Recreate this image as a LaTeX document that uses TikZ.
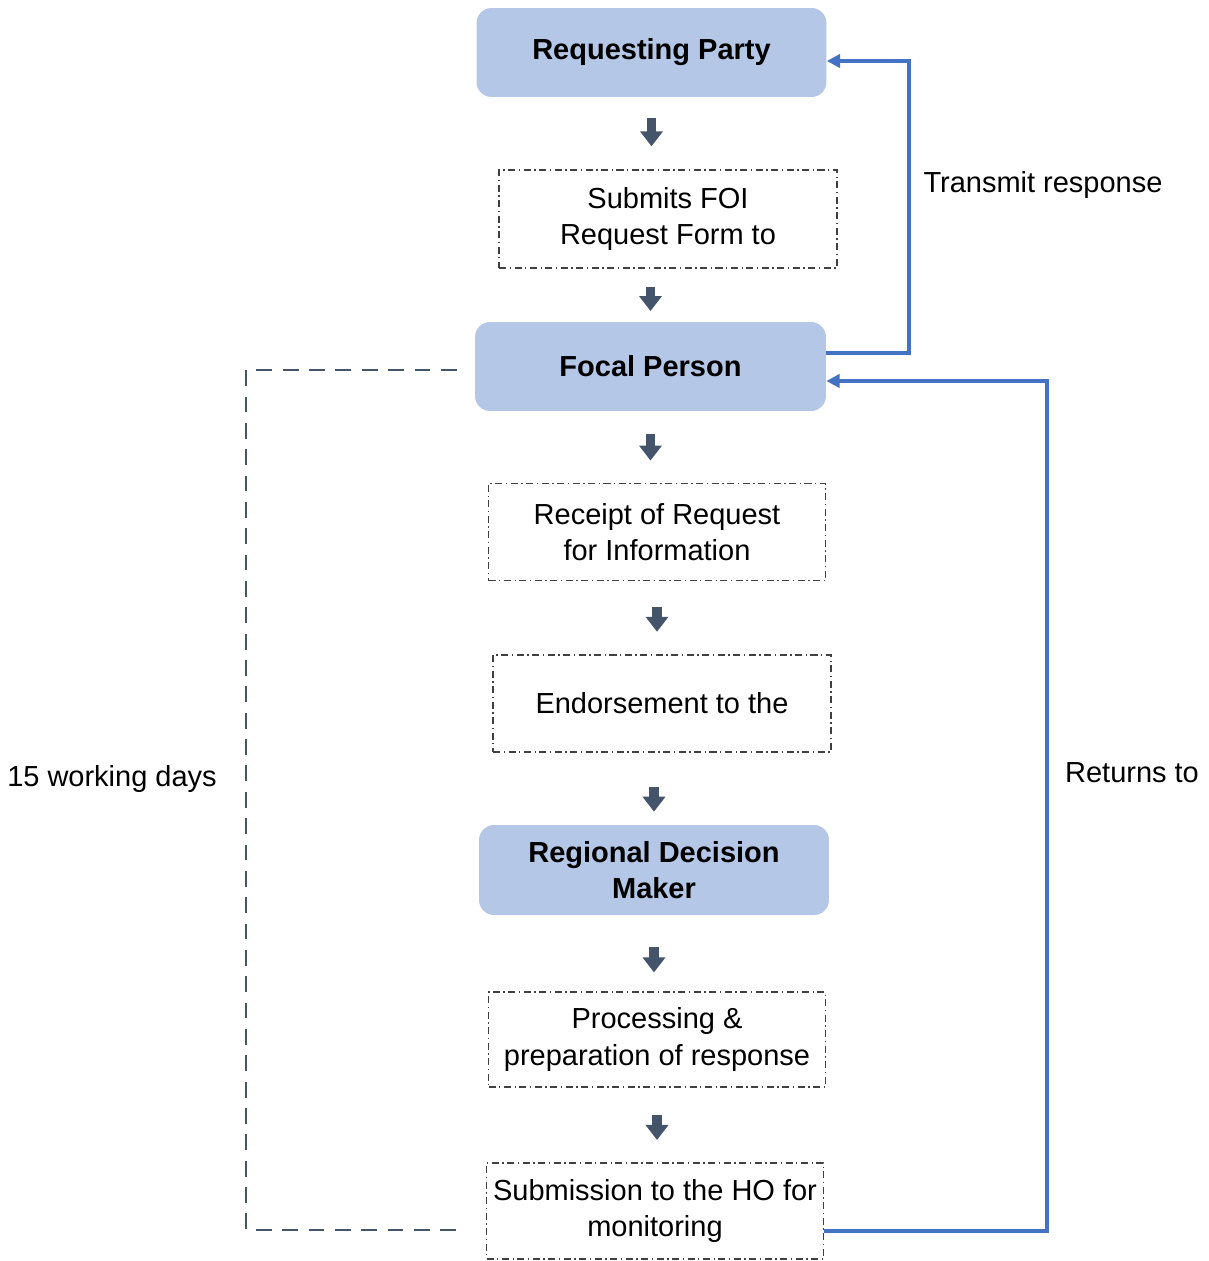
\documentclass[tikz,border=0pt]{standalone}
\usepackage{fontspec}
\setmainfont{Liberation Sans}
\usetikzlibrary{arrows.meta,calc}
\definecolor{boxblue}{HTML}{B4C7E7}
\definecolor{slate}{HTML}{44546A}
\definecolor{linkblue}{HTML}{4472C4}
\newcommand{\flowarrow}[4]{\draw[blockarr] ($(#1)!#3!(#2)$) -- ($(#1)!#4!(#2)$);}

\begin{document}
\begin{tikzpicture}[x=0.02cm, y=-0.02cm,
  every node/.style={font=\fontsize{16.5}{20.5}\selectfont, align=center},
  party/.style={fill=boxblue, rounded corners=0.3cm, inner sep=0,
    font=\fontsize{16.5}{20.5}\selectfont\bfseries,
    minimum width=7cm, minimum height=1.78cm},
  stepbox/.style={draw=black!75, line width=0.7pt, inner sep=0,
    dash pattern=on 4pt off 2pt on 0.8pt off 2pt,
    minimum width=6.74cm, minimum height=1.95cm},
  blockarr/.style={slate, line width=0.19cm, -{Triangle[width=0.44cm,length=0.3cm]}},
  link/.style={linkblue, line width=2pt, -{Triangle[width=7.5pt,length=7.5pt]}},
  timeline/.style={slate, line width=1.5pt, dash pattern=on 9pt off 6pt}]
  \useasboundingbox (0,0) rectangle (1208,1261);

  % main column
  \node[party] (rp) at (651.5,52.5) {Requesting Party};
  \node[stepbox, minimum width=6.76cm, minimum height=1.96cm] (sub) at (668,219) {Submits FOI\\Request Form to};
  \node[party, minimum width=7.02cm] (fp) at (650.5,366.5) {Focal Person};
  \node[stepbox] (rec) at (657,532) {Receipt of Request\\for Information};
  \node[stepbox, minimum width=6.76cm, minimum height=1.94cm] (endo) at (662,703.5) {Endorsement to the};
  \node[party, minimum height=1.8cm] (rdm) at (654,870) {Regional Decision\\Maker};
  \node[stepbox, minimum height=1.9cm] (proc) at (657,1039.5) {Processing \&\\preparation of response};
  \node[stepbox, minimum height=1.92cm] (subm) at (655,1211) {Submission to the HO for\\monitoring};

  % block arrows between the steps
  \flowarrow{rp.south}{rp.south|-sub.north}{.29}{.68}
  \flowarrow{sub.south-|fp.north}{fp.north}{.35}{.8}
  \flowarrow{fp.south}{fp.south|-rec.north}{.32}{.69}
  \flowarrow{rec.south}{rec.south|-endo.north}{.35}{.69}
  \flowarrow{endo.south-|rdm.north}{rdm.north}{.48}{.82}
  \flowarrow{rdm.south}{rdm.south|-proc.north}{.42}{.75}
  \flowarrow{proc.south}{proc.south|-subm.north}{.37}{.7}

  % return loops
  \coordinate (tr) at (909,200);
  \coordinate (rt) at (1047,800);
  \coordinate (dl) at (246,800);
  \draw[link] ([yshift=0.27cm]fp.east) -| (tr) |- ([yshift=-0.17cm]rp.east);
  \draw[link] ([yshift=-0.4cm]subm.east) -| (rt) |- ([yshift=-0.29cm]fp.east);
  \draw[timeline] ([xshift=-0.36cm,yshift=-0.07cm]fp.west) -| (dl) |- ([xshift=-0.4cm,yshift=-0.38cm]subm.west);

  \node (trl) at (1043,185) {Transmit response};
  \node (rtl) at (1132,773) {Returns to};
  \node (wdl) at (112,779) {15 working days};
\end{tikzpicture}
\end{document}
